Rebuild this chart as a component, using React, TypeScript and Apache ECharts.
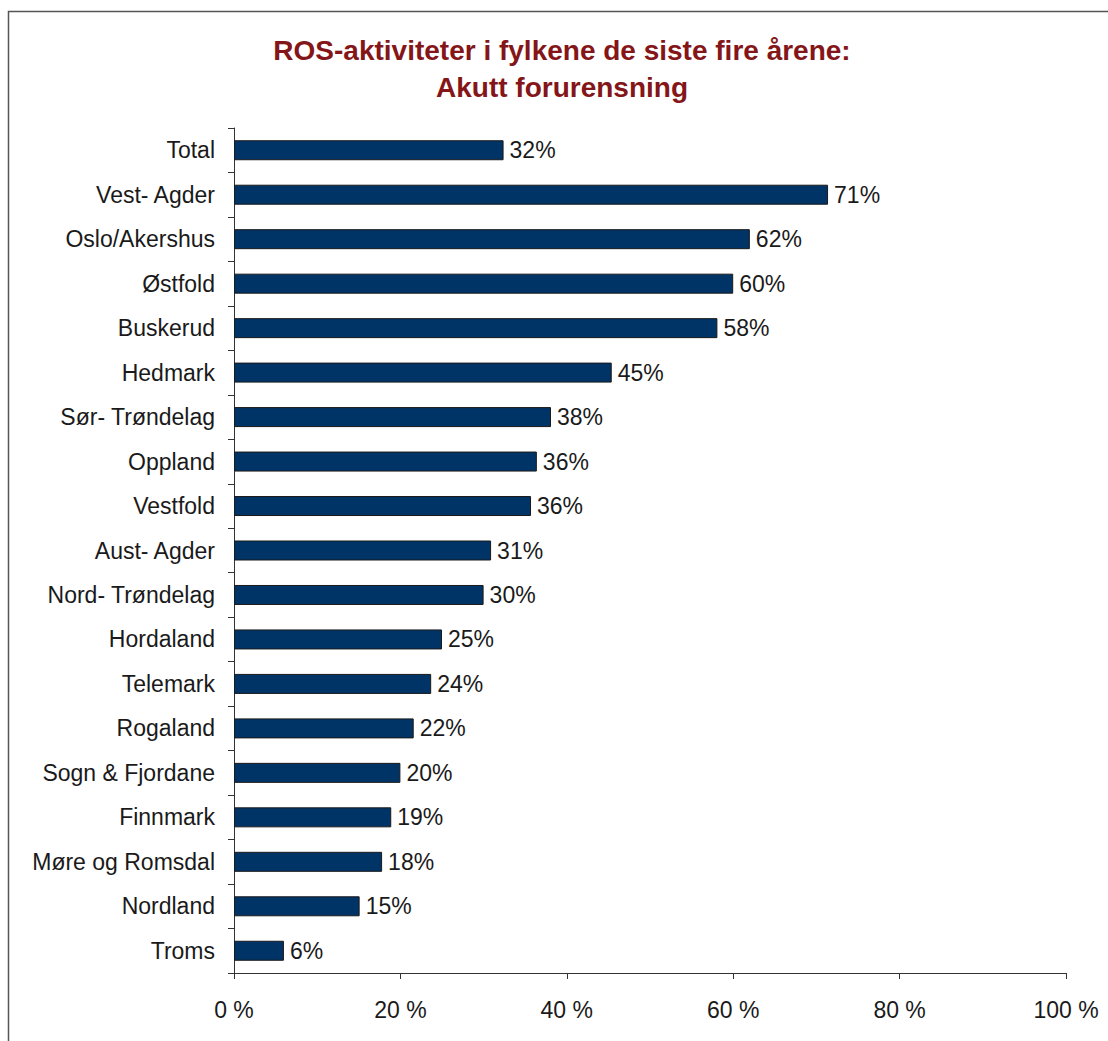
import React, { useEffect, useRef } from "react";
import * as echarts from "echarts";

const categories = [
  "Total",
  "Vest- Agder",
  "Oslo/Akershus",
  "Østfold",
  "Buskerud",
  "Hedmark",
  "Sør- Trøndelag",
  "Oppland",
  "Vestfold",
  "Aust- Agder",
  "Nord- Trøndelag",
  "Hordaland",
  "Telemark",
  "Rogaland",
  "Sogn & Fjordane",
  "Finnmark",
  "Møre og Romsdal",
  "Nordland",
  "Troms",
];

const values = [
  32.4, 71.4, 62.0, 60.0, 58.1, 45.4, 38.1, 36.4, 35.7, 30.9, 30.0, 25.0, 23.7,
  21.6, 20.0, 18.9, 17.8, 15.1, 6.0,
];

const xTicks = { min: 0, max: 100, interval: 20 };

const titleLines = [
  "ROS-aktiviteter i fylkene de siste fire årene:",
  "Akutt forurensning",
];

const FONT = "'Liberation Sans', Arial, Helvetica, sans-serif";

export default function App() {
  const ref = useRef<HTMLDivElement>(null);

  useEffect(() => {
    if (!ref.current) return;
    const chart = echarts.init(ref.current, undefined, { renderer: "svg" });
    chart.setOption({
      animation: false,
      backgroundColor: "#ffffff",
      title: {
        text: titleLines.join("\n"),
        left: 557,
        top: 27,
        textAlign: "center",
        textStyle: {
          fontFamily: FONT,
          fontSize: 28,
          fontWeight: "bold",
          color: "#841619",
          lineHeight: 37,
        },
      },
      graphic: [
        {
          type: "rect",
          shape: { x: 8.5, y: 11.5, width: 1300, height: 1300 },
          style: { fill: "none", stroke: "#555555", lineWidth: 1.5 },
          silent: true,
        },
      ],
      grid: { left: 234, right: 42, top: 128, bottom: 68, containLabel: false },
      xAxis: {
        type: "value",
        min: xTicks.min,
        max: xTicks.max,
        interval: xTicks.interval,
        axisLine: { show: true, lineStyle: { color: "#333333", width: 1 } },
        axisTick: { show: true, length: 6, lineStyle: { color: "#333333" } },
        splitLine: { show: false },
        axisLabel: {
          formatter: "{value} %",
          margin: 25,
          fontFamily: FONT,
          fontSize: 23,
          color: "#1a1a1a",
        },
      },
      yAxis: {
        type: "category",
        data: categories,
        inverse: true,
        axisLine: { show: true, lineStyle: { color: "#333333", width: 1 } },
        axisTick: { show: true, length: 6, lineStyle: { color: "#333333" } },
        axisLabel: {
          margin: 19,
          fontFamily: FONT,
          fontSize: 23,
          color: "#1a1a1a",
        },
      },
      series: [
        {
          type: "bar",
          data: values,
          barWidth: 20,
          itemStyle: { color: "#003366", borderColor: "#1a1a1a", borderWidth: 1 },
          label: {
            show: true,
            position: "right",
            distance: 6,
            fontFamily: FONT,
            fontSize: 23,
            color: "#1a1a1a",
            formatter: (p: any) => Math.round(p.value) + "%",
          },
        },
      ],
    });
    return () => chart.dispose();
  }, []);

  return (
    <div
      ref={ref}
      style={{ position: "absolute", left: 0, top: 0, width: 1108, height: 1041 }}
    />
  );
}
